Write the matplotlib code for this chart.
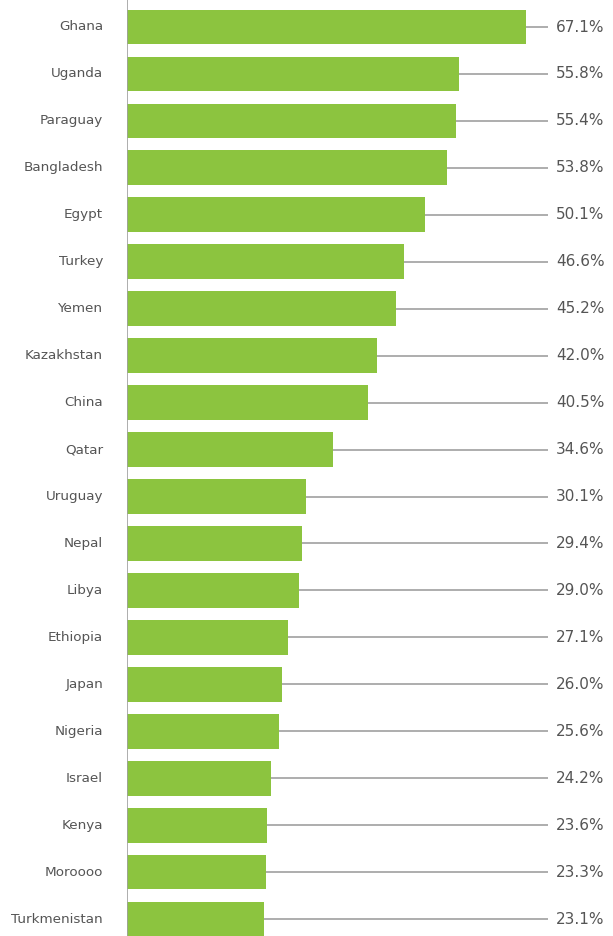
import numpy as np
import matplotlib
matplotlib.use("Agg")
import matplotlib.pyplot as plt

# Dados
paises = ["Ghana", "Uganda", "Paraguay", "Bangladesh", "Egypt", "Turkey", "Yemen",
          "Kazakhstan", "China", "Qatar", "Uruguay", "Nepal", "Libya", "Ethiopia",
          "Japan", "Nigeria", "Israel", "Kenya", "Moroooo", "Turkmenistan"]
valores = [67.1, 55.8, 55.4, 53.8, 50.1, 46.6, 45.2, 42.0, 40.5, 34.6,
           30.1, 29.4, 29.0, 27.1, 26.0, 25.6, 24.2, 23.6, 23.3, 23.1]
rotulos = [f"{v:.1f}%" for v in valores]

cor_barra = "#8cc43f"
cor_linha = "#a0a0a0"
cor_texto = "#555555"

fig = plt.figure(figsize=(6.13, 9.36), dpi=100)
ax = fig.add_axes([127 / 613, 0, 421 / 613, 1])

y = np.arange(len(paises))
x_max = 421 / 5.946

# linhas guia do fim da barra até a borda direita
ax.hlines(y, valores, x_max, color=cor_linha, linewidth=1.2, zorder=1)
ax.barh(y, valores, height=0.74, color=cor_barra, zorder=2)

for yi, nome, rot in zip(y, paises, rotulos):
    ax.text(-24 / 5.946, yi, nome, ha="right", va="center", fontsize=9.7, color=cor_texto)
    ax.text(x_max + 8 / 5.946, yi, rot, ha="left", va="center", fontsize=11, color=cor_texto)

ax.set_xlim(0, x_max)
ax.set_ylim((936 - 27) / 46.95, -27 / 46.95)
ax.axvline(0, color=cor_linha, linewidth=1.2, zorder=3)
for lado in ["top", "right", "bottom", "left"]:
    ax.spines[lado].set_visible(False)
ax.set_xticks([])
ax.set_yticks([])

fig.savefig("out.png", dpi=100)
